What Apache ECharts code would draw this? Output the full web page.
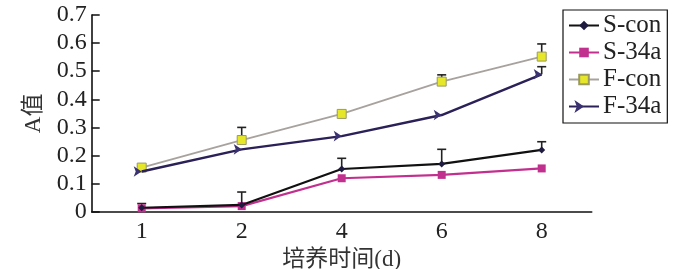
<!DOCTYPE html>
<html><head><meta charset="utf-8">
<script src="https://cdn.jsdelivr.net/npm/echarts@6/dist/echarts.min.js"></script>
<style>html,body{margin:0;padding:0;background:#fff}#c{width:700px;height:269px}</style>
</head><body><div id="c"></div>
<script>
const categories = ['1', '2', '4', '6', '8'];
const seriesNames = ['S-con', 'S-34a', 'F-con', 'F-34a'];
const sCon  = [0.014, 0.024, 0.152, 0.170, 0.220];
const s34a  = [0.012, 0.020, 0.119, 0.131, 0.154];
const fCon  = [0.157, 0.255, 0.348, 0.463, 0.552];
const f34a  = [0.143, 0.222, 0.269, 0.344, 0.489];
const sConErr = [0.015, 0.046, 0.038, 0.052, 0.029];
const s34aErr = [0, 0, 0, 0, 0];
const fConErr = [0.004, 0.045, 0.006, 0.024, 0.045];
const f34aErr = [0, 0, 0, 0, 0.027];
const yTicks = [0, 0.1, 0.2, 0.3, 0.4, 0.5, 0.6, 0.7];

const FONT = '"Liberation Serif", "Noto Sans CJK SC", serif';
const colors = ['#111111', '#c2308f', '#a8a29e', '#2b2057'];

function errSeries(vals, errs) {
  return {
    type: 'custom', silent: true, z: 1,
    data: vals.map((v, i) => [i, v, v + errs[i]]),
    renderItem: function (params, api) {
      if (api.value(2) - api.value(1) < 0.002) return null;
      const lo = api.coord([api.value(0), api.value(1)]);
      const hi = api.coord([api.value(0), api.value(2)]);
      const st = { stroke: '#222', lineWidth: 1.6 };
      return { type: 'group', children: [
        { type: 'line', shape: { x1: lo[0], y1: lo[1], x2: hi[0], y2: hi[1] }, style: st },
        { type: 'line', shape: { x1: hi[0] - 4.5, y1: hi[1], x2: hi[0] + 4.5, y2: hi[1] }, style: st }
      ]};
    }
  };
}

const chart = echarts.init(document.getElementById('c'));
chart.setOption({
  animation: false,
  textStyle: { fontFamily: FONT },
  grid: { left: 91.7, right: 108.3, top: 15, bottom: 57.3, containLabel: false, outerBoundsMode: 'none' },
  legend: {
    orient: 'vertical', left: 563, top: 10,
    data: seriesNames,
    borderColor: '#111', borderWidth: 1.2, padding: [3, 6, 4, 5],
    itemWidth: 30, itemHeight: 12, itemGap: 2,
    textStyle: { fontFamily: FONT, fontSize: 25, color: '#222', padding: [0, 0, 0, -1] }
  },
  xAxis: {
    type: 'category', data: categories, boundaryGap: true,
    name: '培养时间(d)', nameLocation: 'middle', nameGap: 33,
    nameTextStyle: { fontFamily: FONT, fontSize: 23, color: '#333' },
    axisLine: { lineStyle: { color: '#111', width: 1.6 } },
    axisTick: { inside: true, length: 8, lineStyle: { color: '#111', width: 1.5 } },
    axisLabel: { fontFamily: FONT, fontSize: 24, color: '#222', margin: 8 },
    splitLine: { show: false }
  },
  yAxis: {
    type: 'value', min: 0, max: 0.7, interval: 0.1,
    name: 'A值', nameLocation: 'middle', nameGap: 46, nameRotate: 90,
    nameTextStyle: { fontFamily: FONT, fontSize: 23, color: '#333' },
    axisLine: { show: true, lineStyle: { color: '#111', width: 1.6 } },
    axisTick: { show: true, inside: true, length: 8, lineStyle: { color: '#111', width: 1.5 } },
    axisLabel: { fontFamily: FONT, fontSize: 24, color: '#222', margin: 5,
      formatter: v => String(yTicks.find(t => Math.abs(t - v) < 1e-9) ?? v) },
    splitLine: { show: false }
  },
  series: [
    errSeries(sCon, sConErr), errSeries(s34a, s34aErr), errSeries(fCon, fConErr), errSeries(f34a, f34aErr),
    { name: 'S-con', type: 'line', data: sCon, z: 5, symbol: 'diamond', symbolSize: 7,
      lineStyle: { color: colors[0], width: 2.2 }, itemStyle: { color: '#1e1a40' } },
    { name: 'S-34a', type: 'line', data: s34a, z: 4, symbol: 'rect', symbolSize: 8,
      lineStyle: { color: colors[1], width: 2.2 }, itemStyle: { color: colors[1] } },
    { name: 'F-con', type: 'line', data: fCon, z: 3, symbol: 'rect', symbolSize: 9,
      lineStyle: { color: colors[2], width: 1.8 }, itemStyle: { color: '#e6e62a', borderColor: '#9a9a60', borderWidth: 1 } },
    { name: 'F-34a', type: 'line', data: f34a, z: 4, symbol: 'arrow', symbolSize: 8, symbolRotate: -90,
      lineStyle: { color: colors[3], width: 2.4 }, itemStyle: { color: '#3a3270' } }
  ]
});
</script>
</body></html>
